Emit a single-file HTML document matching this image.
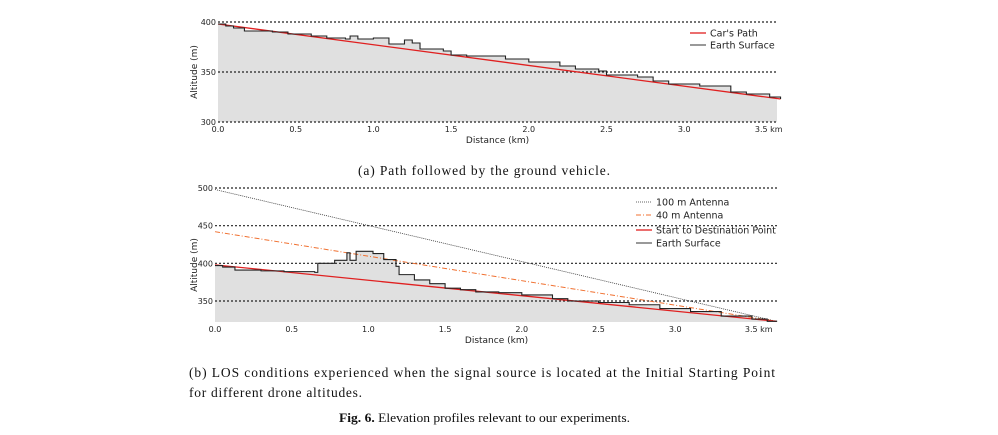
<!DOCTYPE html>
<html><head><meta charset="utf-8"><style>
body{margin:0;background:#fff;width:998px;height:435px;overflow:hidden}
svg{position:absolute;left:0;top:0}
.t{font-family:"DejaVu Sans","Liberation Sans",sans-serif;font-size:8px;fill:#222}
.c{font-family:"Liberation Serif",serif;font-size:13.5px;fill:#111}
</style></head><body>
<svg id="s" width="998" height="435">
<text class="c" x="358" y="175" textLength="252" lengthAdjust="spacing">(a) Path followed by the ground vehicle.</text>
<text class="c" x="189" y="377" textLength="586" lengthAdjust="spacing">(b) LOS conditions experienced when the signal source is located at the Initial Starting Point</text>
<text class="c" x="189" y="397" textLength="173" lengthAdjust="spacing">for different drone altitudes.</text>
<text class="c" x="339" y="422" textLength="291" lengthAdjust="spacingAndGlyphs" style="font-size:13px"><tspan font-weight="bold">Fig. 6.</tspan>  Elevation profiles relevant to our experiments.</text>
</svg>
<script>
const xTicks=[0,0.5,1.0,1.5,2.0,2.5,3.0,3.5];
const xTickLabels=["0.0","0.5","1.0","1.5","2.0","2.5","3.0","3.5 km"];
const dist1=[0,0.05,0.1,0.17,0.35,0.45,0.6,0.7,0.82,0.85,0.9,1.0,1.1,1.2,1.25,1.3,1.45,1.5,1.6,1.85,2.0,2.2,2.3,2.45,2.5,2.7,2.8,2.9,3.1,3.3,3.4,3.55,3.62];
const alt1=[398,396,394,391,390,388,386,384,383,386,383,384,378,382,379,373,371,367,366,363,360,356,353,351,347,345,341,338,336,330,328,325,323];
const car1=[[0,398],[3.62,323]];
const yTicks1=[300,350,400];
const dist2=[0,0.05,0.13,0.3,0.45,0.65,0.67,0.78,0.86,0.88,0.92,1.03,1.1,1.18,1.2,1.3,1.4,1.5,1.6,1.7,1.85,2.0,2.2,2.3,2.5,2.7,2.9,3.1,3.3,3.5,3.6,3.66];
const alt2=[397,395,391,390,389,388,400,404,414,404,416,413,405,396,385,378,373,367,365,362,361,358,353,350,348,345,340,336,330,326,323,324];
const startDest=[[0,398],[3.66,323]];
const ant40=[[0,442],[3.66,323]];
const ant100=[[0,498],[3.66,323]];
const yTicks2=[350,400,450,500];
const svg=document.getElementById('s');
const NS='http://www.w3.org/2000/svg';
function mk(tag,a,parent){const e=document.createElementNS(NS,tag);for(const k in a)e.setAttribute(k,a[k]);(parent||svg).appendChild(e);return e;}
function chart(o){
 const X=d=>o.x0+d*o.kx, Y=v=>o.yTop+(o.vTop-v)*o.ky;
 const g=mk('g',{});
 
 
 let p='M'+X(o.dist[0])+','+o.bottom;
 for(let i=0;i<o.dist.length;i++){ if(i>0)p+=' L'+X(o.dist[i])+','+Y(o.alt[i-1]); p+=' L'+X(o.dist[i])+','+Y(o.alt[i]); }
 p+=' L'+o.right+','+Y(o.alt[o.alt.length-1])+' L'+o.right+','+o.bottom+' Z';
 const f=mk('path',{d:p,fill:'#e0e0e0'},g);
 
 
 for(const v of o.yTicks){
  const gl=mk('line',{x1:o.x0,x2:o.right,y1:Y(v),y2:Y(v),stroke:'#222','stroke-dasharray':'2,2','stroke-width':1.2},g);
  
  
  const tl=mk('text',{x:o.x0-2,y:Y(v)+3,'text-anchor':'end',class:'t'},g);tl.textContent=v;
  
  
 }
 xTicks.forEach((d,i)=>{
  const t=mk('text',{x:X(d),y:o.bottom+10,'text-anchor':i==7?'start':'middle',class:'t'},g);
  if(i==7)t.setAttribute('x',X(d)-7);
  t.textContent=xTickLabels[i];
  
  
 });
 const xt=mk('text',{x:(o.x0+o.right)/2,y:o.bottom+21,'text-anchor':'middle',class:'t',style:'font-size:9px'},g);xt.textContent='Distance (km)';
 
 
 const yt=mk('text',{x:0,y:0,'text-anchor':'middle',class:'t',style:'font-size:9px',transform:'translate(197,'+(o.yMid)+') rotate(-90)'},g);yt.textContent='Altitude (m)';
 
 
 for(const ln of o.lines){
  const l=mk('line',{x1:X(ln.d[0][0]),y1:Y(ln.d[0][1]),x2:X(ln.d[1][0]),y2:Y(ln.d[1][1]),stroke:ln.c,'stroke-width':ln.w,'stroke-dasharray':ln.dash||''},g);
  
  
 }
 let s='M'+X(o.dist[0])+','+Y(o.alt[0]);
 for(let i=1;i<o.dist.length;i++){s+=' L'+X(o.dist[i])+','+Y(o.alt[i-1])+' L'+X(o.dist[i])+','+Y(o.alt[i]);}
 const es=mk('path',{d:s,fill:'none',stroke:'#222','stroke-width':1.1},g);
 
 
 o.legend.forEach((L,i)=>{
  const y=o.legY[i];
  const sw=mk('line',{x1:o.legX,x2:o.legX+16,y1:y,y2:y,stroke:L.c,'stroke-width':L.w,'stroke-dasharray':L.dash||''},g);
  
  
  const tx=mk('text',{x:o.legX+20,y:y+3.5,class:'t',style:'font-size:9.5px'},g);tx.textContent=L.t;
  
  
 });
 return g;
}
chart({name:'chart-a',x0:218,kx:155.4,yTop:22,vTop:400,ky:1,bottom:122,right:777,yMid:72,dist:dist1,alt:alt1,yTicks:yTicks1,
 lines:[{d:car1,c:'#e02020',w:1.3,n:'cars-path-line'}],
 legX:690,legY:[33,45],legend:[{t:"Car's Path",c:'#e02020',w:1.3},{t:'Earth Surface',c:'#333',w:1}]});
chart({name:'chart-b',x0:215,kx:153.4,yTop:188,vTop:500,ky:0.7533,bottom:322,right:778,yMid:265,dist:dist2,alt:alt2,yTicks:yTicks2,
 lines:[{d:ant100,c:'#333',w:0.8,dash:'1,1',n:'antenna-100m-line'},{d:ant40,c:'#f07030',w:1,dash:'5,2,1,2',n:'antenna-40m-line'},{d:startDest,c:'#e02020',w:1.3,n:'start-destination-line'}],
 legX:636,legY:[202,215,230,243],legend:[{t:'100 m Antenna',c:'#333',w:0.8,dash:'1,1'},{t:'40 m Antenna',c:'#f07030',w:1,dash:'5,2,1,2'},{t:'Start to Destination Point',c:'#e02020',w:1.3},{t:'Earth Surface',c:'#333',w:1}]});
</script>
</body></html>
